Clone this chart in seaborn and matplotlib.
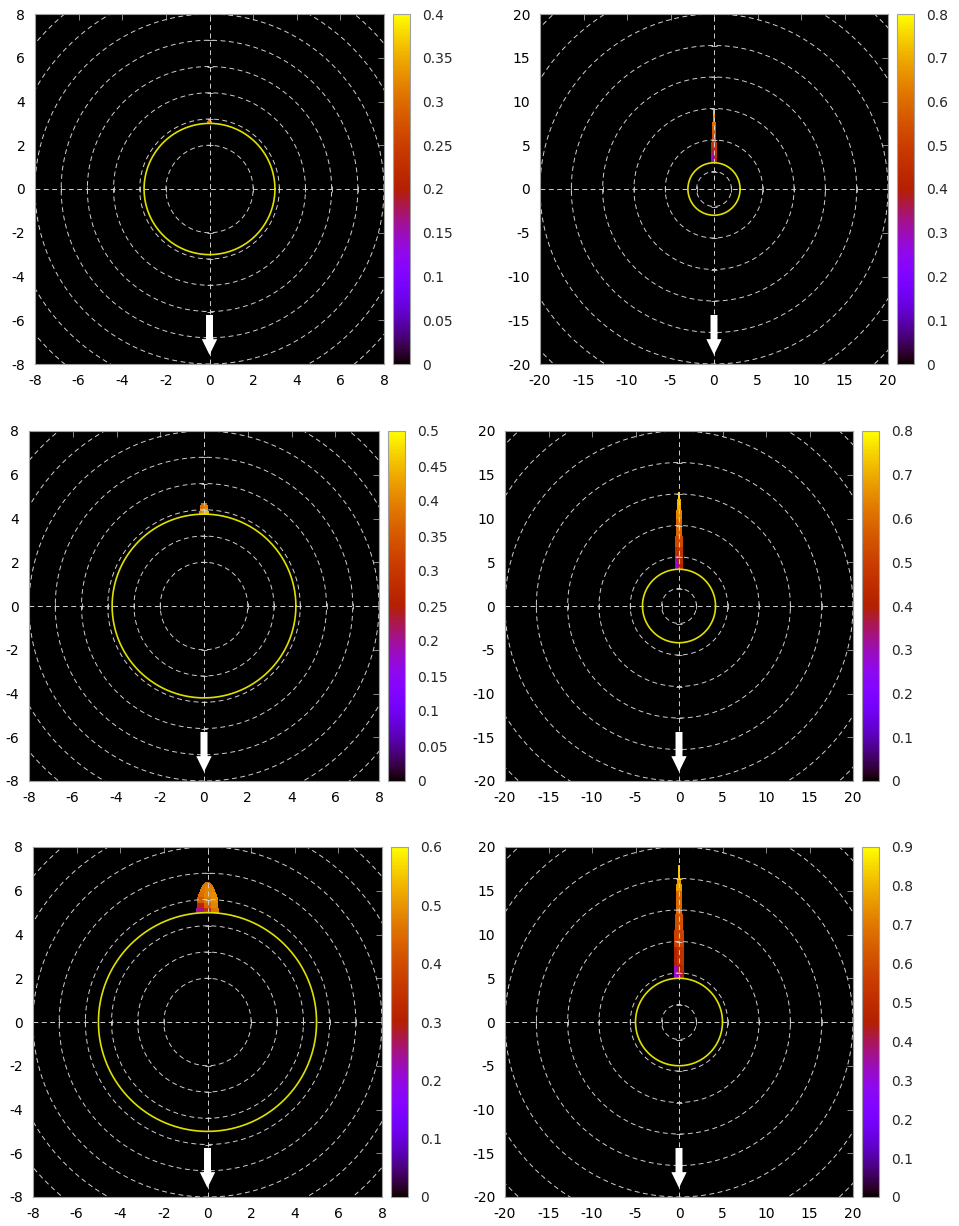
import numpy as np
import matplotlib
matplotlib.use("Agg")
import matplotlib.pyplot as plt
from matplotlib.colors import ListedColormap, Normalize
from matplotlib.cm import ScalarMappable
from matplotlib.ticker import FormatStrFormatter
import seaborn as sns

sns.set_style("white")
plt.rcParams["font.family"] = ["DejaVu Sans"]
plt.rcParams["axes.unicode_minus"] = False

# ---------------------------------------------------------------- data
# half extent of each panel (x and y run from -R to R)
panel_range = [8, 20, 8, 20, 8, 20]
# radius of the yellow reference ring
ring_radius = [3.0, 3.0, 4.2, 4.2, 5.0, 5.0]
# colour-bar range and tick step
cb_max = [0.4, 0.8, 0.5, 0.8, 0.6, 0.9]
cb_step = [0.05, 0.1, 0.05, 0.1, 0.1, 0.1]
# axis ticks
ticks_small = [-8, -6, -4, -2, 0, 2, 4, 6, 8]
ticks_large = [-20, -15, -10, -5, 0, 5, 10, 15, 20]
# polar grid circles
grid_small = [2.0, 3.2, 4.4, 5.6, 6.8, 8.0, 9.2, 10.4]
grid_large = [2.0, 5.6, 9.2, 12.8, 16.4, 20.0, 23.6, 27.2]

# density patches: radial band edges, half width at each edge, and the
# values of each band (left / centre / right strip)
p1_r = [3.0, 3.1, 3.2]
p1_hw = [0.10, 0.09, 0.06]
p1_val = [[0.29, 0.31, 0.30],
          [0.30, 0.33, 0.31]]

p2_r = [3.0, 3.5, 4.1, 4.7, 5.4, 6.3, 7.2, 7.7, 8.3, 9.0]
p2_hw = [0.36, 0.36, 0.35, 0.32, 0.21, 0.20, 0.19, 0.15, 0.12, 0.08]
p2_val = [[0.26, 0.34, 0.40],
          [0.30, 0.40, 0.44],
          [0.38, 0.45, 0.46],
          [0.46, 0.50, 0.48],
          [0.52, 0.54, 0.52],
          [0.55, 0.57, 0.55],
          [0.60, 0.62, 0.60],
          [0.65, 0.67, 0.65],
          [0.71, 0.73, 0.71]]

p3_r = [4.2, 4.35, 4.5, 4.6, 4.7]
p3_hw = [0.21, 0.20, 0.17, 0.12, 0.07]
p3_val = [[0.40, 0.42, 0.45],
          [0.39, 0.41, 0.42],
          [0.38, 0.40, 0.40],
          [0.37, 0.38, 0.38]]

p4_r = [4.2, 4.8, 5.5, 6.8, 8.0, 9.9, 11.0, 12.2, 13.0]
p4_hw = [0.48, 0.48, 0.47, 0.45, 0.39, 0.37, 0.19, 0.17, 0.12]
p4_val = [[0.24, 0.34, 0.40],
          [0.30, 0.40, 0.44],
          [0.44, 0.47, 0.46],
          [0.52, 0.54, 0.52],
          [0.58, 0.61, 0.59],
          [0.64, 0.66, 0.64],
          [0.70, 0.72, 0.70],
          [0.76, 0.78, 0.76]]

p5_r = [5.0, 5.2, 5.45, 5.7, 5.95, 6.15, 6.3, 6.4]
p5_hw = [0.52, 0.50, 0.47, 0.42, 0.35, 0.26, 0.17, 0.06]
p5_val = [[0.24, 0.34, 0.46],
          [0.32, 0.44, 0.48],
          [0.42, 0.47, 0.49],
          [0.45, 0.48, 0.49],
          [0.46, 0.48, 0.48],
          [0.46, 0.47, 0.46],
          [0.45, 0.46, 0.45]]

p6_r = [5.0, 5.6, 6.5, 8.6, 10.5, 12.3, 15.0, 16.5, 17.9]
p6_hw = [0.55, 0.55, 0.53, 0.53, 0.44, 0.40, 0.35, 0.14, 0.08]
p6_val = [[0.30, 0.38, 0.45],
          [0.33, 0.45, 0.48],
          [0.45, 0.52, 0.52],
          [0.56, 0.58, 0.57],
          [0.60, 0.62, 0.61],
          [0.66, 0.68, 0.66],
          [0.76, 0.78, 0.76],
          [0.82, 0.84, 0.82]]

patch_r = [p1_r, p2_r, p3_r, p4_r, p5_r, p6_r]
patch_hw = [p1_hw, p2_hw, p3_hw, p4_hw, p5_hw, p6_hw]
patch_val = [p1_val, p2_val, p3_val, p4_val, p5_val, p6_val]

# ---------------------------------------------------------------- layout (pixels)
W, H = 959, 1226
axes_px = [(35, 14, 384, 364), (540, 14, 888, 364),
           (29, 431, 379, 781), (505, 431, 853, 781),
           (33, 847, 382, 1197), (505, 847, 853, 1197)]
cbar_px = [(393, 14, 410, 364), (897, 14, 914, 364),
           (388, 431, 405, 781), (862, 431, 879, 781),
           (391, 847, 408, 1197), (862, 847, 879, 1197)]

# gnuplot's default pm3d palette (rgbformulae 7,5,15)
_t = np.linspace(0, 1, 256)
pm3d = ListedColormap(np.column_stack([np.sqrt(_t), _t ** 3,
                                       np.clip(np.sin(2 * np.pi * _t), 0, 1)]))

grid_col = "#d0d0d0"
grid_ls = (0, (5, 3.6))
frame_col = "#a0a0a0"


def rect(px):
    l, t, r, b = px
    return [l / W, 1 - b / H, (r - l) / W, (b - t) / H]


fig = plt.figure(figsize=(W / 100, H / 100), dpi=100)
fig.patch.set_facecolor("white")
theta = np.linspace(0, 2 * np.pi, 721)

for i in range(6):
    R = panel_range[i]
    ax = fig.add_axes(rect(axes_px[i]))
    ax.set_facecolor("black")
    ax.set_xlim(-R, R)
    ax.set_ylim(-R, R)

    norm = Normalize(0, cb_max[i])

    # density patch as a trapezoidal mesh
    rr = np.asarray(patch_r[i])
    hw = np.asarray(patch_hw[i])
    u = np.array([-1.0, -1 / 3, 1 / 3, 1.0])
    X = np.outer(hw, u)
    Y = np.repeat(rr[:, None], len(u), axis=1)
    ax.pcolormesh(X, Y, np.asarray(patch_val[i]), cmap=pm3d, norm=norm,
                  shading="flat", linewidth=0, antialiased=False, zorder=1)

    # polar grid
    grid = grid_small if R == 8 else grid_large
    for g in grid:
        ax.plot(g * np.cos(theta), g * np.sin(theta), color=grid_col,
                lw=0.7, ls=grid_ls, zorder=2)
    ax.axhline(0, color=grid_col, lw=0.7, ls=grid_ls, zorder=2)
    ax.axvline(0, color=grid_col, lw=0.7, ls=grid_ls, zorder=2)
    gin = [g for g in grid if g <= R]
    gx = np.array(gin + [-g for g in gin])
    ax.plot(gx, np.zeros_like(gx), ls="none", marker="|", ms=4, mew=0.6,
            color=grid_col, zorder=2)
    ax.plot(np.zeros_like(gx), gx, ls="none", marker="_", ms=4, mew=0.6,
            color=grid_col, zorder=2)

    # yellow ring
    rad = ring_radius[i]
    sns.lineplot(x=rad * np.cos(theta), y=rad * np.sin(theta), sort=False,
                 estimator=None, color="#e0e000", lw=1.2, ax=ax, zorder=3)

    # white arrow pointing down
    ax.arrow(0.5, 0.14, 0, -0.114, width=0.02, head_width=0.044,
             head_length=0.045, length_includes_head=True,
             transform=ax.transAxes, fc="white", ec="white", lw=0, zorder=4)

    ticks = ticks_small if R == 8 else ticks_large
    ax.set_xticks(ticks)
    ax.set_yticks(ticks)
    ax.xaxis.set_major_formatter(FormatStrFormatter("%g"))
    ax.yaxis.set_major_formatter(FormatStrFormatter("%g"))
    ax.tick_params(direction="in", length=4, width=0.6, color=frame_col,
                   top=True, right=True, labelsize=10, pad=7,
                   labelcolor="black")
    for s in ax.spines.values():
        s.set_edgecolor(frame_col)
        s.set_linewidth(0.8)
        s.set_zorder(5)

    # colour bar
    cax = fig.add_axes(rect(cbar_px[i]))
    cticks = np.round(np.arange(0, cb_max[i] + 1e-9, cb_step[i]), 3)
    cb = fig.colorbar(ScalarMappable(norm=norm, cmap=pm3d), cax=cax,
                      ticks=cticks)
    cb.ax.yaxis.set_major_formatter(FormatStrFormatter("%g"))
    cax.tick_params(direction="in", length=5, width=0.6, color="#303030",
                    left=True, right=True, labelsize=10, pad=9)
    cb.outline.set_edgecolor(frame_col)
    cb.outline.set_linewidth(0.8)

fig.savefig("out.png", dpi=100, facecolor="white")
